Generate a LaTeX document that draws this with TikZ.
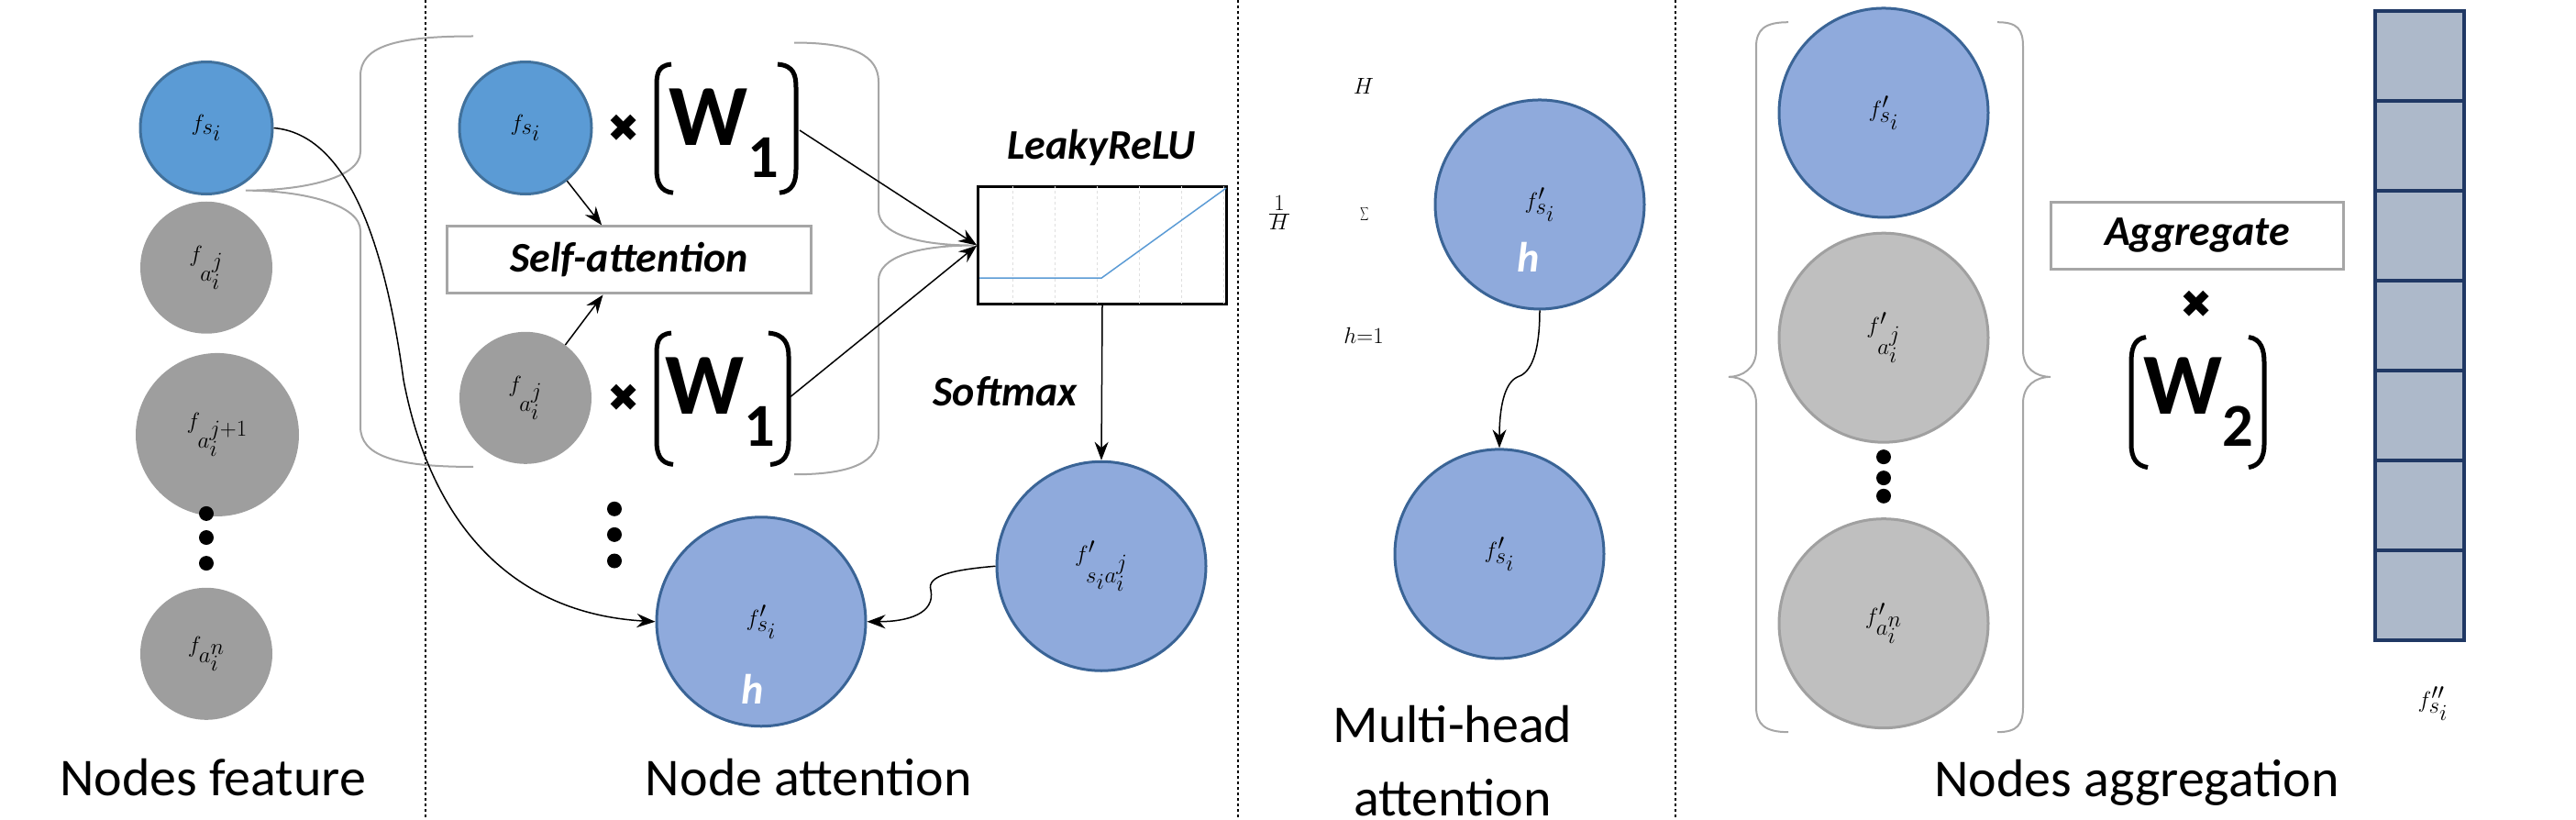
\documentclass[tikz,border=0pt]{standalone}
\usepackage{fontspec}
\setmainfont{Carlito}
\newfontfamily\symf{DejaVu Sans}
\usetikzlibrary{arrows.meta,shapes.geometric}
\definecolor{bdark}{HTML}{5B9BD5}\definecolor{bdarkb}{HTML}{41719C}
\definecolor{blight}{HTML}{8FAADC}\definecolor{blightb}{HTML}{3A6496}
\definecolor{gdark}{HTML}{9E9E9E}\definecolor{glight}{HTML}{BFBFBF}\definecolor{glightb}{HTML}{A0A0A0}
\definecolor{slate}{HTML}{ADB9CA}\definecolor{navy}{HTML}{203864}
\begin{document}
\begin{tikzpicture}[x=1pt,y=-0.637pt,
 mth/.style={font=\fontsize{60}{60}\selectfont},
 nb/.style={circle,draw=bdarkb,line width=3pt,fill=bdark,minimum size=144pt,inner sep=0pt,mth},
 ng/.style={circle,fill=gdark,minimum size=144pt,inner sep=0pt,mth},
 nl/.style={circle,draw=blightb,line width=3pt,fill=blight,minimum size=228pt,inner sep=0pt,mth},
 nlg/.style={circle,draw=glightb,line width=3pt,fill=glight,minimum size=228pt,inner sep=0pt,mth},
 arr/.style={line width=1.5pt,-{Stealth[length=20pt,width=15pt]}},
 lab/.style={font=\fontsize{46}{46}\selectfont\bfseries\itshape},
 capt/.style={font=\fontsize{58}{80}\selectfont,align=center},
 brc/.style={draw=gray!70,line width=2pt},
 sep/.style={dashed,line width=1.5pt},
 par/.style={line width=5pt},
 crs/.style={font=\symf\fontsize{42}{42}\selectfont},
 wm/.style={font=\fontsize{95}{95}\selectfont\bfseries},
 dot/.style={fill=black,circle,inner sep=0pt,minimum size=16pt}]
\useasboundingbox (0,0) rectangle (2809,1402);
\draw[sep] (464,0) -- (464,1402);
\draw[sep] (1350,0) -- (1350,1402);
\draw[sep] (1827,0) -- (1827,1402);
% braces
\draw[brc] (516,62) .. controls (430,62) and (393,80) .. (393,130) -- (393,260) .. controls (393,305) and (330,326) .. (268,326) .. controls (330,326) and (393,350) .. (393,395) -- (393,730) .. controls (393,780) and (430,799) .. (516,799);
\draw[brc] (866,73) .. controls (930,73) and (958,95) .. (958,140) -- (958,360) .. controls (958,400) and (1000,420) .. (1062,420) .. controls (1000,420) and (958,440) .. (958,480) -- (958,745) .. controls (958,790) and (930,812) .. (866,812);
% left column
\node[nb] (fs) at (225,219) {$f_{s_i}$};
\node[ng] (g1) at (225,458) {$f_{a_i^j}$};
\node[ng,minimum size=178pt] (g2) at (237,744) {$f_{a_i^{j+1}}$};
\node[dot] (d1) at (225,879) {};\node[dot] (d2) at (225,920) {};\node[dot] (d3) at (225,964) {};
\node[ng] (g3) at (225,1119) {$f_{a_i^n}$};
\node[capt] (c1) at (232,1330) {Nodes feature};
% attention
\node[nb] (fs2) at (573,219) {$f_{s_i}$};
\node[ng] (ga) at (573,681) {$f_{a_i^j}$};
\node[crs] (x1) at (680,219) {✖};
\node[crs] (x2) at (680,681) {✖};
\node[wm] (w1) at (790,228) {W\textsubscript{1}};
\node[wm] (w1b) at (786,688) {W\textsubscript{1}};
\draw[par] (732,110) .. controls (716,112) and (716,130) .. (716,150) -- (716,290) .. controls (716,312) and (720,328) .. (734,330);
\draw[par] (848,110) .. controls (866,112) and (868,130) .. (868,150) -- (868,290) .. controls (868,312) and (864,328) .. (850,330);
\draw[par] (732,570) .. controls (716,572) and (716,590) .. (716,610) -- (716,755) .. controls (716,777) and (720,793) .. (734,795);
\draw[par] (838,570) .. controls (856,572) and (860,590) .. (860,610) -- (860,755) .. controls (860,777) and (856,793) .. (840,795);
\node[draw=gray!70,line width=3pt,minimum width=397pt,minimum height=73pt,lab] (sa) at (686,445) {Self-attention};
\draw[arr] (fs2) -- (sa);
\draw[arr] (ga) -- (sa);
\node[draw,line width=2.5pt,minimum width=271pt,minimum height=128pt,inner sep=0pt] (lr) at (1202,420) {};
\begin{scope}
\clip (1067,319) rectangle (1338,520);
\draw[gray!25,line width=0.8pt,dashed] (1067,319) grid[step=46] (1338,520);
\end{scope}
\draw[color=bdark,line width=1.5pt] (1068,476) -- (1201,476) -- (1337,322);
\node[lab] (lrl) at (1201,253) {LeakyReLU};
\coordinate (w1e) at (872,223);
\coordinate (w1be) at (862,679);
\draw[arr] (w1e) -- (lr.west);
\draw[arr] (w1be) -- (lr.west);
\node[lab] (smx) at (1096,670) {Softmax};
\node[nl] (fsa) at (1201,969) {$f'_{s_ia_i^j}$};
\draw[arr] (lr.south) -- (fsa.north);
\node[nl] (fh) at (830,1064) {$f'_{s_i}$};
\node[font=\fontsize{46}{46}\selectfont\bfseries\itshape,text=white] (h1) at (821,1179) {h};
\node[dot] (m1) at (670,871) {};\node[dot] (m2) at (670,915) {};\node[dot] (m3) at (670,960) {};
\draw[arr] (fs.east) .. controls (380,230) and (420,420) .. (440,650) .. controls (470,900) and (560,1050) .. (fh.west);
\draw[arr] (fsa.west) .. controls (1040,975) and (1010,985) .. (1015,1010) .. controls (1020,1050) and (990,1064) .. (fh.east);
\node[capt] (c2) at (882,1330) {Node attention};
% multi-head
\node[font=\fontsize{60}{60}\selectfont] (hH) at (1487,148) {$H$};
\node[font=\fontsize{60}{60}\selectfont] (h1b) at (1487,575) {$h{=}1$};
\node[font=\fontsize{60}{60}\selectfont] (fr) at (1395,364) {$\frac{1}{H}$};
\node[inner sep=0pt] (sg) at (1488,366) {\scalebox{0.63}[1]{\fontsize{130}{130}\selectfont$\displaystyle\sum$}};
\node[nl] (mh) at (1679,350) {$f'_{s_i}$};
\node[font=\fontsize{46}{46}\selectfont\bfseries\itshape,text=white] (h2) at (1667,440) {h};
\node[nl] (mb) at (1635,948) {$f'_{s_i}$};
\draw[arr] (mh.south) .. controls (1679,620) and (1665,640) .. (1655,645) .. controls (1640,655) and (1635,700) .. (mb.north);
\node[capt] (c3) at (1584,1303) {Multi-head\\attention};
% aggregation
\draw[brc] (1950,38) .. controls (1925,38) and (1915,50) .. (1915,80) -- (1915,600) .. controls (1915,630) and (1900,645) .. (1885,645) .. controls (1900,645) and (1915,660) .. (1915,690) -- (1915,1210) .. controls (1915,1240) and (1925,1253) .. (1950,1253);
\draw[brc] (2178,38) .. controls (2200,38) and (2206,50) .. (2206,80) -- (2206,600) .. controls (2206,630) and (2220,645) .. (2236,645) .. controls (2220,645) and (2206,660) .. (2206,690) -- (2206,1210) .. controls (2206,1240) and (2200,1253) .. (2178,1253);
\node[nl] (a1) at (2054,193) {$f'_{s_i}$};
\node[nlg] (a2) at (2054,578) {$f'_{a_i^j}$};
\node[dot] (e1) at (2054,782) {};\node[dot] (e2) at (2054,818) {};\node[dot] (e3) at (2054,849) {};
\node[nlg] (a3) at (2054,1067) {$f'_{a_i^n}$};
\node[draw=gray!70,line width=3pt,minimum width=319pt,minimum height=73pt,lab] (ag) at (2396,403) {Aggregate};
\node[crs] (x3) at (2395,521) {✖};
\node[wm] (w2) at (2398,688) {W\textsubscript{2}};
\draw[par] (2340,577) .. controls (2326,580) and (2324,600) .. (2324,620) -- (2324,760) .. controls (2324,785) and (2330,797) .. (2342,800);
\draw[par] (2452,577) .. controls (2466,580) and (2469,600) .. (2469,620) -- (2469,760) .. controls (2469,785) and (2463,797) .. (2452,800);
\foreach \i in {0,...,6}{
 \node[draw=navy,fill=slate,line width=4pt,minimum width=97pt,minimum height=98pt,inner sep=0pt] (v\i) at (2638.5,{18+77+154*\i}) {};}
\node[font=\fontsize{60}{60}\selectfont] (fpp) at (2653,1204) {$f''_{s_i}$};
\node[capt] (c4) at (2330,1339) {Nodes aggregation};
\end{tikzpicture}
\end{document}
